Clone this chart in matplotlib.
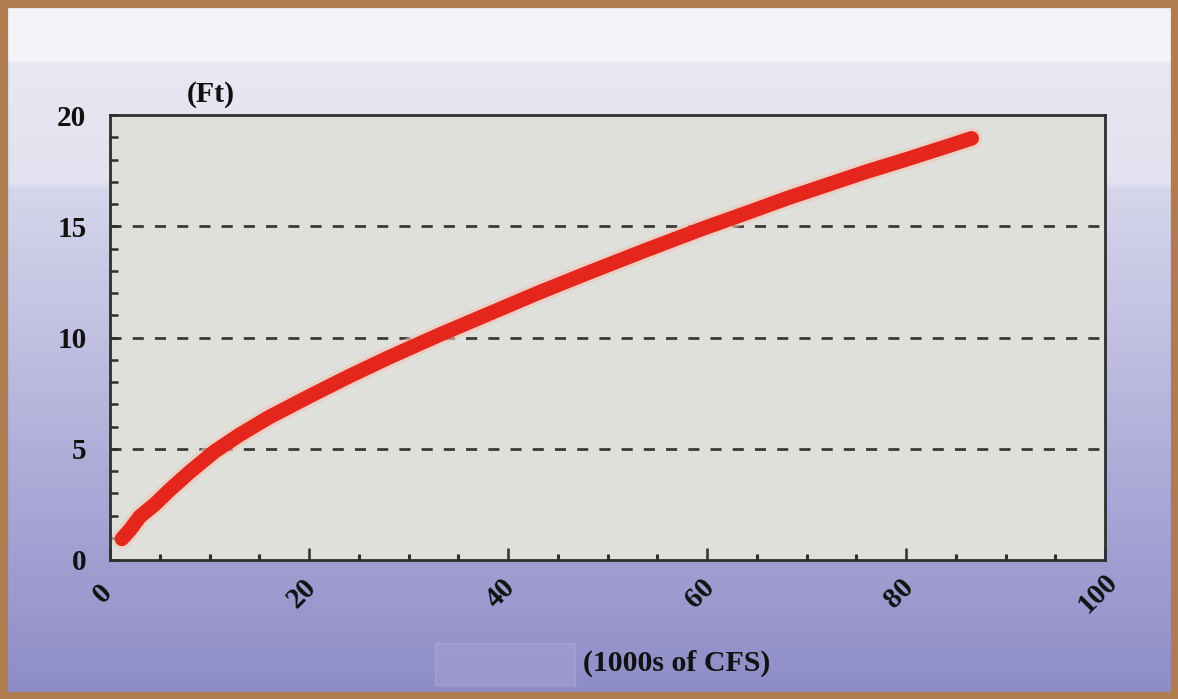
import matplotlib
matplotlib.use("Agg")
import matplotlib.pyplot as plt
import matplotlib.transforms as mtransforms
from matplotlib.colors import LinearSegmentedColormap
from matplotlib.patches import Rectangle
import numpy as np

# Rating curve: discharge (thousands of CFS) vs. stage (ft)
flow_kcfs = [1.2, 2.0, 3.0, 4.5, 6.0, 8.0, 10.5, 13.0, 16.0, 20.0, 24.0, 28.0,
             33.0, 38.0, 43.0, 48.0, 54.0, 59.6, 64.0, 68.0, 72.0, 76.0, 80.0,
             83.5, 86.6]
stage_ft = [0.95, 1.35, 1.95, 2.5, 3.15, 3.95, 4.87, 5.62, 6.42, 7.35, 8.25, 9.1,
            10.1, 11.05, 12.0, 12.9, 13.95, 14.9, 15.6, 16.25, 16.85, 17.45,
            18.0, 18.5, 18.95]

x_ticks = [0, 20, 40, 60, 80, 100]
y_ticks = [0, 5, 10, 15, 20]
grid_levels = [5, 10, 15]

W, H, DPI = 1178, 699, 100
fig = plt.figure(figsize=(W / DPI, H / DPI), dpi=DPI)

# Page background: pale at the top fading to periwinkle at the bottom
bg = fig.add_axes([0, 0, 1, 1], zorder=-10)
stops = [(0.00, "#f5f5f9"), (0.085, "#f3f3f8"), (0.09, "#e8e8f3"),
         (0.26, "#e2e2f0"), (0.27, "#d5d5eb"), (0.45, "#c4c3e3"),
         (0.65, "#afaed9"), (0.82, "#9f9dd0"), (1.00, "#8e8cc7")]
cmap = LinearSegmentedColormap.from_list("page", stops)
grad = np.linspace(0, 1, 512).reshape(-1, 1)
bg.imshow(grad, aspect="auto", cmap=cmap, extent=[0, 1, 1, 0])
bg.set_xlim(0, 1)
bg.set_ylim(1, 0)
bg.axis("off")
# faint lighter panel behind the axis title
bg.add_patch(Rectangle((435 / W, 643 / H), 140 / W, 42 / H,
                       facecolor="#a19fd3", edgecolor="#aeacda", lw=1, alpha=0.6))

# Frame around the page
fig.add_artist(Rectangle((0, 0), 1, 1, transform=fig.transFigure, fill=False,
                         edgecolor="#ae7c4e", linewidth=11, zorder=20))

left, right, bottom, top = 110 / W, 1105 / W, 1 - 560 / H, 1 - 115 / H
ax = fig.add_axes([left, bottom, right - left, top - bottom])
ax.set_facecolor("#dfe0dc")

for lvl in grid_levels:
    ax.axhline(lvl, color="#3a3a3a", lw=2.0, linestyle=(0, (4, 4)), zorder=1)

# soft halo under the curve
ax.plot(flow_kcfs, stage_ft, color="#f3c4b4", lw=15, alpha=0.6,
        solid_capstyle="round", solid_joinstyle="round", zorder=2)
ax.plot(flow_kcfs, stage_ft, color="#e5261c", lw=10.5,
        solid_capstyle="round", solid_joinstyle="round", zorder=3)

ax.set_xlim(0, 100)
ax.set_ylim(0, 20)
ax.set_xticks(x_ticks)
ax.set_xticks(np.arange(0, 101, 5), minor=True)
ax.set_yticks(y_ticks)
ax.set_yticks(np.arange(0, 21, 1), minor=True)

for s in ax.spines.values():
    s.set_color("#2e2e2e")
    s.set_linewidth(2.0)

ax.tick_params(axis="x", which="major", direction="in", length=9, width=1.8,
               color="#2e2e2e", pad=24, labelsize=21)
ax.tick_params(axis="x", which="minor", direction="in", length=4, width=2.2,
               color="#2e2e2e")
ax.tick_params(axis="y", which="both", direction="in", length=6, width=1.8,
               color="#2e2e2e", pad=17, labelsize=21)
ax.tick_params(top=False, right=False, which="both")

serif = ["Liberation Serif", "DejaVu Serif"]
ax.set_xticklabels([str(v) for v in x_ticks])
ax.set_yticklabels([str(v) for v in y_ticks])
shift = mtransforms.ScaledTranslation(-7 / DPI, 0, fig.dpi_scale_trans)
for lab in ax.get_xticklabels():
    lab.set_rotation(45)
    lab.set_ha("center")
    lab.set_va("center")
    lab.set_fontfamily(serif)
    lab.set_fontweight("bold")
    lab.set_color("#111111")
    lab.set_transform(lab.get_transform() + shift)
for lab in ax.get_yticklabels():
    lab.set_fontfamily(serif)
    lab.set_fontweight("bold")
    lab.set_color("#111111")

fig.text(211 / W, 1 - 95 / H, "(Ft)", ha="center", va="center", fontsize=21.5,
         fontweight="bold", family=serif, color="#111111")
fig.text(677 / W, 1 - 663 / H, "(1000s of CFS)", ha="center", va="center",
         fontsize=21.5, fontweight="bold", family=serif, color="#111111")

fig.savefig("out.png", dpi=DPI)
